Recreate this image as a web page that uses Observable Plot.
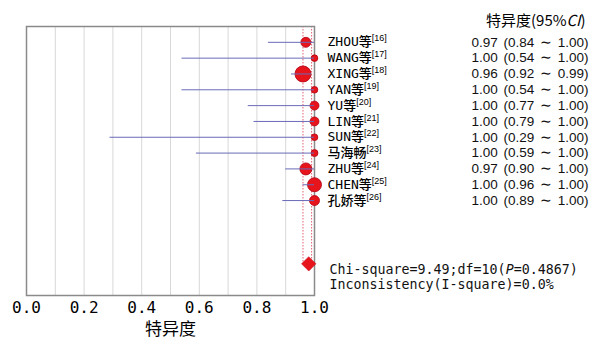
<!DOCTYPE html>
<html><head><meta charset="utf-8">
<script src="https://cdn.jsdelivr.net/npm/d3@7"></script>
<script src="https://cdn.jsdelivr.net/npm/@observablehq/plot@0.6"></script>
<style>
body{margin:0;background:#fff;}
#wrap{position:relative;width:596px;height:338px;}
#hdr{position:absolute;left:486px;top:9px;font:15px "Noto Sans CJK SC","Liberation Sans",sans-serif;color:#000;}
</style></head>
<body><div id="wrap"><div id="hdr">特异度(95%<i>CI</i>)</div></div>
<script>
const studies = ["ZHOU等","WANG等","XING等","YAN等","YU等","LIN等","SUN等","马海畅","ZHU等","CHEN等","孔娇等"];
const refs = ["16","17","18","19","20","21","22","23","24","25","26"];
const spec = [0.97,1.00,0.96,1.00,1.00,1.00,1.00,1.00,0.97,1.00,1.00];
const lower = [0.84,0.54,0.92,0.54,0.77,0.79,0.29,0.59,0.90,0.96,0.89];
const upper = [1.00,1.00,0.99,1.00,1.00,1.00,1.00,1.00,1.00,1.00,1.00];
const weights = [25,11,64,11,20,20,11,12,36,49,25];
const pooled = {est:0.98, lo:0.96, hi:0.99};
const pooledRow = 14;
const axisTicks = [0,0.2,0.4,0.6,0.8,1.0];
const gridTicks = [0.1,0.2,0.3,0.4,0.5,0.6,0.7,0.8,0.9];
const statLines = ["Chi-square=9.49;df=10(P=0.4867)","Inconsistency(I-square)=0.0%"];

const f2 = d3.format(".2f");
const rows = studies.map((s,i)=>({name:s, ref:refs[i], row:i, est:spec[i], lo:lower[i], hi:upper[i], w:weights[i],
  ci:`${f2(spec[i])} (${f2(lower[i])} ∼ ${f2(upper[i])})`}));

const mono = "'DejaVu Sans Mono','Noto Sans CJK SC',monospace";
const plot = Plot.plot({
  width:596, height:338,
  marginLeft:26, marginRight:282, marginTop:26, marginBottom:43,
  style:{fontFamily:mono, background:"#fff"},
  x:{domain:[0,1]},
  y:{domain:[-1,16], reverse:true, axis:null},
  r:{type:"sqrt", domain:[0,64], range:[0,8]},
  marks:[
    Plot.ruleX(gridTicks,{stroke:"#d8d8d8", strokeWidth:1}),
    Plot.ruleX([pooled.lo,pooled.hi],{y1:-1,y2:pooledRow,stroke:"#e06070",strokeWidth:1,strokeDasharray:"1.5,1.5"}),
    Plot.frame({stroke:"#8a8a8a", strokeWidth:1.5}),
    Plot.dot(rows,{x:"est",y:"row",r:"w",fill:"#e8141c",stroke:"#b00010",strokeWidth:0.8}),
    Plot.ruleY(rows,{y:"row",x1:"lo",x2:"hi",stroke:"#6a6ab8",strokeWidth:1}),
    Plot.dot([pooled],{x:"est",y:()=>pooledRow,symbol:"diamond2",r:6.5,fill:"#e8141c",stroke:"#c00010",strokeWidth:0.5}),
    Plot.text(rows,{x:()=>1,y:"row",text:"name",dx:13,textAnchor:"start",fontSize:13,fontWeight:500,fill:"#000",className:"lbl"}),
    Plot.text(rows,{x:()=>1,y:"row",text:"ci",dx:274,textAnchor:"end",fontSize:13.5,fill:"#111",fontFamily:"'Liberation Sans',Arial,sans-serif",className:"ci"}),
    Plot.text([statLines.join("\n")],{x:()=>1,y:()=>pooledRow,dx:15,dy:12.5,textAnchor:"start",lineAnchor:"middle",lineHeight:1.15,fontSize:13.3,fill:"#111",className:"stats"}),
    Plot.axisX({ticks:axisTicks, tickSize:0, tickPadding:6, fontSize:16, tickFormat:d3.format(".1f"),
      label:"特异度", labelAnchor:"center", labelArrow:"none", labelOffset:39})
  ]
});
document.getElementById("wrap").prepend(plot);

plot.querySelectorAll(".ci text").forEach(t=>t.setAttribute("word-spacing","2"));
// superscripts
plot.querySelectorAll(".lbl text").forEach((t,i)=>{
  const sup = document.createElementNS("http://www.w3.org/2000/svg","tspan");
  sup.setAttribute("dy","-5");
  sup.setAttribute("font-size","9");
  sup.setAttribute("font-family","'Liberation Sans',Arial,sans-serif");
  sup.setAttribute("font-weight","400");
  sup.textContent = "[" + rows[i].ref + "]";
  t.appendChild(sup);
});
// italic P
plot.querySelectorAll(".stats tspan").forEach(ts=>{
  const s = ts.textContent;
  const k = s.indexOf("P=");
  if (k>=0){
    ts.textContent = s.slice(0,k);
    const it = document.createElementNS("http://www.w3.org/2000/svg","tspan");
    it.setAttribute("font-style","italic"); it.textContent="P";
    const rest = document.createElementNS("http://www.w3.org/2000/svg","tspan");
    rest.textContent = s.slice(k+1);
    ts.appendChild(it); ts.appendChild(rest);
  }
});
plot.querySelectorAll("[aria-label='x-axis label'] text, [aria-label='x-axis label']").forEach(e=>{e.setAttribute("font-size","17");e.setAttribute("font-family","'Noto Sans CJK SC',sans-serif");});
</script></body></html>
